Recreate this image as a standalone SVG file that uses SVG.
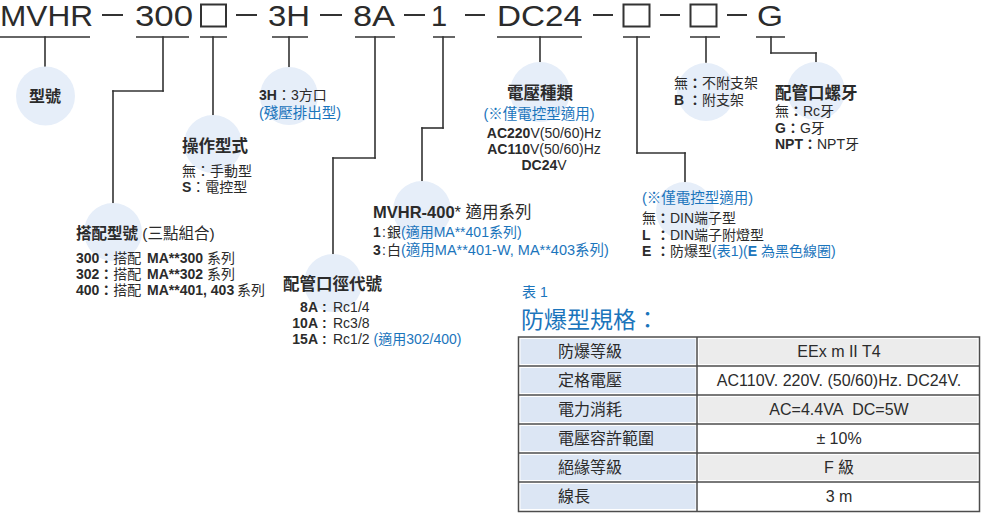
<svg xmlns="http://www.w3.org/2000/svg" width="981" height="514" viewBox="0 0 981 514">
<style>
text{font-family:"Liberation Sans","Noto Sans CJK TC",sans-serif;fill:#2b2b2b}
.code{font-size:29px}
.t{font-size:16.5px;font-weight:bold}
.d{font-size:14px}
.b{font-weight:bold}
.bl{fill:#1b75bc}
.ln line{fill:none;stroke:#333;stroke-width:1.6;stroke-linecap:square}
.dash{stroke:#333;stroke-width:2}
.ul{stroke:#333;stroke-width:1.5}
.c{fill:#e6eef9}
.tb{font-size:16px}
.grid{fill:none;stroke:#4d4d4d;stroke-width:1.5}
</style>
<rect width="981" height="514" fill="#fff"/>

<g id="code">
<text class="code" x="0" y="26" textLength="93" lengthAdjust="spacingAndGlyphs">MVHR</text>
<text class="code" x="135" y="26" textLength="58" lengthAdjust="spacingAndGlyphs">300</text>
<rect x="201" y="4.5" width="25" height="22" fill="none" stroke="#333" stroke-width="2"/>
<text class="code" x="268" y="26" textLength="42" lengthAdjust="spacingAndGlyphs">3H</text>
<text class="code" x="353" y="26" textLength="42" lengthAdjust="spacingAndGlyphs">8A</text>
<text class="code" x="431" y="26">1</text>
<text class="code" x="497" y="26" textLength="85" lengthAdjust="spacingAndGlyphs">DC24</text>
<rect x="623.5" y="4.5" width="26" height="22" fill="none" stroke="#333" stroke-width="2"/>
<rect x="690.5" y="4.5" width="26" height="22" fill="none" stroke="#333" stroke-width="2"/>
<text class="code" x="757" y="26" textLength="26" lengthAdjust="spacingAndGlyphs">G</text>
<g class="dash">
<line x1="102" y1="15" x2="123" y2="15"/>
<line x1="236" y1="15" x2="257" y2="15"/>
<line x1="320" y1="15" x2="342" y2="15"/>
<line x1="404" y1="15" x2="425" y2="15"/>
<line x1="465" y1="15" x2="485" y2="15"/>
<line x1="593" y1="15" x2="613" y2="15"/>
<line x1="660" y1="15" x2="680" y2="15"/>
<line x1="727" y1="15" x2="747" y2="15"/>
</g>
<g class="ul">
<line x1="0" y1="37" x2="90" y2="37"/>
<line x1="136" y1="37" x2="189" y2="37"/>
<line x1="200" y1="37" x2="227" y2="37"/>
<line x1="272" y1="37" x2="308" y2="37"/>
<line x1="355" y1="37" x2="395" y2="37"/>
<line x1="433" y1="37" x2="455" y2="37"/>
<line x1="497" y1="37" x2="582" y2="37"/>
<line x1="623" y1="37" x2="650" y2="37"/>
<line x1="690" y1="37" x2="720" y2="37"/>
<line x1="756" y1="37" x2="785" y2="37"/>
</g>
</g>

<g id="connectors" class="ln">
<line x1="45" y1="37" x2="45" y2="67"/>
<line x1="163" y1="37" x2="163" y2="91"/>
<line x1="163" y1="91" x2="113" y2="91"/>
<line x1="113" y1="91" x2="113" y2="203"/>
<line x1="213" y1="37" x2="213" y2="115"/>
<line x1="289" y1="37" x2="289" y2="67"/>
<line x1="375" y1="37" x2="375" y2="158"/>
<line x1="375" y1="158" x2="333" y2="158"/>
<line x1="333" y1="158" x2="333" y2="254"/>
<line x1="443" y1="37" x2="443" y2="128"/>
<line x1="443" y1="128" x2="422" y2="128"/>
<line x1="422" y1="128" x2="422" y2="181"/>
<line x1="540" y1="37" x2="540" y2="62"/>
<line x1="637" y1="37" x2="637" y2="153"/>
<line x1="637" y1="153" x2="685" y2="153"/>
<line x1="685" y1="153" x2="685" y2="182"/>
<line x1="706" y1="37" x2="706" y2="62"/>
<line x1="771" y1="37" x2="771" y2="53"/>
<line x1="771" y1="53" x2="816" y2="53"/>
<line x1="816" y1="53" x2="816" y2="62"/>
</g>

<g id="n-model">
<circle class="c" cx="45.5" cy="96" r="29.5"/>
<text class="t" x="45" y="102" text-anchor="middle" style="font-size:16px">型號</text>
</g>

<g id="n-combo">
<circle class="c" cx="113" cy="232" r="29"/>
<text x="76" y="239" style="font-size:15.5px"><tspan class="b">搭配型號</tspan> (三點組合)</text>
<text class="d" x="76" y="263"><tspan class="b">300：</tspan>搭配 <tspan class="b" x="147">MA**300</tspan><tspan x="207">系列</tspan></text>
<text class="d" x="76" y="279"><tspan class="b">302：</tspan>搭配 <tspan class="b" x="147">MA**302</tspan><tspan x="207">系列</tspan></text>
<text class="d" x="76" y="295"><tspan class="b">400：</tspan>搭配 <tspan class="b" x="147">MA**401, 403</tspan><tspan x="237">系列</tspan></text>
</g>

<g id="n-op">
<circle class="c" cx="213" cy="144" r="29"/>
<text class="t" x="182" y="152">操作型式</text>
<text class="d" x="182" y="176">無：手動型</text>
<text class="d" x="182" y="192"><tspan class="b">S</tspan>：電控型</text>
</g>

<g id="n-3h">
<circle class="c" cx="289" cy="96" r="29"/>
<text class="d" x="259" y="100"><tspan class="b">3H</tspan>：3方口</text>
<text class="d bl" x="259" y="118" style="font-size:14.5px">(殘壓排出型)</text>
</g>

<g id="n-port">
<circle class="c" cx="333" cy="283" r="29"/>
<text class="t" x="283" y="290">配管口徑代號</text>
<text class="d b" x="318" y="312" text-anchor="end">8A</text>
<text class="d b" x="322" y="312">:</text>
<text class="d" x="333" y="312">Rc1/4</text>
<text class="d b" x="318" y="328" text-anchor="end">10A</text>
<text class="d b" x="322" y="328">:</text>
<text class="d" x="333" y="328">Rc3/8</text>
<text class="d b" x="318" y="344" text-anchor="end">15A</text>
<text class="d b" x="322" y="344">:</text>
<text class="d" x="333" y="344">Rc1/2 <tspan class="bl">(適用302/400)</tspan></text>
</g>

<g id="n-400">
<circle class="c" cx="422" cy="210" r="29"/>
<text x="373" y="218" style="font-size:16.5px"><tspan class="b">MVHR-400</tspan>* 適用系列</text>
<text class="d" y="237"><tspan class="b" x="373">1</tspan><tspan x="382">:</tspan><tspan x="387">銀</tspan><tspan class="bl" x="401">(適用MA**401系列)</tspan></text>
<text class="d" y="255"><tspan class="b" x="373">3</tspan><tspan x="382">:</tspan><tspan x="387">白</tspan><tspan class="bl" x="401" style="font-size:14.5px">(適用MA**401-W, MA**403系列)</tspan></text>
</g>

<g id="n-volt">
<circle class="c" cx="540" cy="92" r="30"/>
<text class="t" x="540" y="99" text-anchor="middle">電壓種類</text>
<text class="d bl" x="539" y="119" text-anchor="middle" style="font-size:14.5px">(※僅電控型適用)</text>
<text class="d" x="544" y="138" text-anchor="middle"><tspan class="b">AC220</tspan>V(50/60)Hz</text>
<text class="d" x="544" y="154" text-anchor="middle"><tspan class="b">AC110</tspan>V(50/60)Hz</text>
<text class="d" x="544" y="170" text-anchor="middle"><tspan class="b">DC24</tspan>V</text>
</g>

<g id="n-conn">
<circle class="c" cx="685" cy="211" r="29"/>
<text class="d bl" x="642" y="203" style="font-size:14.5px">(※僅電控型適用)</text>
<text class="d" y="223"><tspan x="642">無</tspan><tspan class="b" x="656">：</tspan><tspan x="670">DIN端子型</tspan></text>
<text class="d" y="240"><tspan class="b" x="642">L</tspan><tspan class="b" x="656">：</tspan><tspan x="670">DIN端子附燈型</tspan></text>
<text class="d" y="256"><tspan class="b" x="642">E</tspan><tspan class="b" x="656">：</tspan><tspan x="670">防爆型</tspan><tspan class="bl">(表1)(<tspan class="b bl">E</tspan> 為黑色線圈)</tspan></text>
</g>

<g id="n-bracket">
<circle class="c" cx="706" cy="92" r="29"/>
<text class="d" y="88"><tspan x="674">無</tspan><tspan class="b" x="688">：</tspan><tspan x="702">不附支架</tspan></text>
<text class="d" y="105"><tspan class="b" x="674">B</tspan><tspan class="b" x="688">：</tspan><tspan x="702">附支架</tspan></text>
</g>

<g id="n-thread">
<circle class="c" cx="816" cy="91" r="29"/>
<text class="t" x="775" y="99">配管口螺牙</text>
<text class="d" x="775" y="116">無<tspan class="b">：</tspan>Rc牙</text>
<text class="d" x="775" y="133"><tspan class="b">G：</tspan>G牙</text>
<text class="d" x="775" y="149"><tspan class="b">NPT：</tspan>NPT牙</text>
</g>

<g id="table1">
<text class="bl" x="522" y="297" style="font-size:14px">表 1</text>
<text class="bl" x="521" y="328" style="font-size:23px">防爆型規格：</text>
<g>
<rect x="520.5" y="339" width="175" height="25" fill="#dce6f4"/>
<rect x="520.5" y="368" width="175" height="25" fill="#dce6f4"/>
<rect x="520.5" y="397" width="175" height="25" fill="#dce6f4"/>
<rect x="520.5" y="426" width="175" height="25" fill="#dce6f4"/>
<rect x="520.5" y="455" width="175" height="25" fill="#dce6f4"/>
<rect x="520.5" y="484" width="175" height="25" fill="#dce6f4"/>
<rect x="699" y="339" width="278.5" height="25" fill="#ececec"/>
<rect x="699" y="397" width="278.5" height="25" fill="#ececec"/>
<rect x="699" y="455" width="278.5" height="25" fill="#ececec"/>
</g>
<g class="grid">
<rect x="518.5" y="337" width="461" height="174.5"/>
<path d="M518.5,366H979.5M518.5,395H979.5M518.5,424H979.5M518.5,453H979.5M518.5,482H979.5M697,337V511.5"/>
</g>
<g class="tb">
<text x="558" y="357">防爆等級</text>
<text x="558" y="386">定格電壓</text>
<text x="558" y="415">電力消耗</text>
<text x="558" y="444">電壓容許範圍</text>
<text x="558" y="473">絕緣等級</text>
<text x="558" y="502">線長</text>
</g>
<g class="tb" text-anchor="middle">
<text x="839" y="357">EEx m II T4</text>
<text x="839" y="386">AC110V. 220V. (50/60)Hz. DC24V.</text>
<text x="839" y="415">AC=4.4VA&#160; DC=5W</text>
<text x="839" y="444">± 10%</text>
<text x="839" y="473">F 級</text>
<text x="839" y="502">3 m</text>
</g>
</g>
</svg>
